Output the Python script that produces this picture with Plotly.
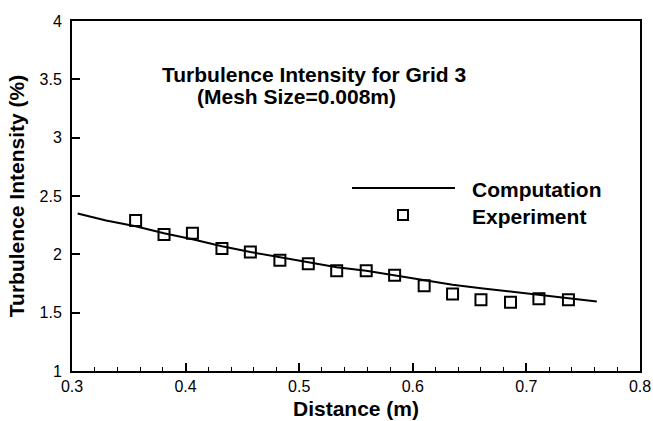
import plotly.graph_objects as go

# Experiment data (distance in m, turbulence intensity in %)
exp_x = [0.356, 0.381, 0.406, 0.432, 0.457, 0.483, 0.508, 0.533, 0.559, 0.584,
         0.610, 0.635, 0.660, 0.686, 0.711, 0.737]
exp_y = [2.29, 2.17, 2.18, 2.05, 2.02, 1.95, 1.92, 1.86, 1.86, 1.82,
         1.73, 1.66, 1.61, 1.59, 1.62, 1.61]

# Computation curve
comp_x = [0.305, 0.33, 0.356, 0.381, 0.406, 0.432, 0.457, 0.483, 0.508, 0.533,
          0.559, 0.584, 0.610, 0.635, 0.660, 0.686, 0.711, 0.737, 0.762]
comp_y = [2.35, 2.29, 2.24, 2.18, 2.13, 2.07, 2.02, 1.975, 1.93, 1.89,
          1.86, 1.82, 1.78, 1.74, 1.71, 1.68, 1.65, 1.62, 1.595]

x_ticks = [0.3, 0.4, 0.5, 0.6, 0.7, 0.8]
x_tick_labels = ["0.3", "0.4", "0.5", "0.6", "0.7", "0.8"]
y_ticks = [1, 1.5, 2, 2.5, 3, 3.5, 4]
y_tick_labels = ["1", "1.5", "2", "2.5", "3", "3.5", "4"]

FONT = "Liberation Sans, Arial, Helvetica, sans-serif"

fig = go.Figure()
fig.add_trace(go.Scatter(x=comp_x, y=comp_y, mode="lines", name="Computation",
                         line=dict(color="black", width=2), showlegend=False))
fig.add_trace(go.Scatter(x=exp_x, y=exp_y, mode="markers", name="Experiment",
                         marker=dict(symbol="square-open", size=11, color="black",
                                     line=dict(width=2, color="black")),
                         showlegend=False))

W, H = 653, 421
PL, PR, PT, PB = 72, 640, 21, 371  # plot area in window pixels


def px(xp):
    return (xp - PL) / (PR - PL)


def py(yp):
    return (PB - yp) / (PB - PT)


# Legend drawn manually
fig.add_shape(type="line", xref="paper", yref="paper",
              x0=px(352), x1=px(455), y0=py(188), y1=py(188),
              line=dict(color="black", width=2))
fig.add_shape(type="rect", xref="paper", yref="paper",
              x0=px(398), x1=px(408), y0=py(210), y1=py(220),
              line=dict(color="black", width=2), fillcolor="white")
fig.add_annotation(text="Computation", xref="paper", yref="paper",
                   x=px(470), y=py(189), xanchor="left", yanchor="middle",
                   showarrow=False, font=dict(family=FONT, size=21, color="black", weight="bold"))
fig.add_annotation(text="Experiment", xref="paper", yref="paper",
                   x=px(470), y=py(216), xanchor="left", yanchor="middle",
                   showarrow=False, font=dict(family=FONT, size=21, color="black", weight="bold"))

# Title text inside plot
fig.add_annotation(text="Turbulence Intensity for Grid 3", xref="paper", yref="paper",
                   x=px(160), y=py(74), xanchor="left", yanchor="middle",
                   showarrow=False, font=dict(family=FONT, size=21, color="black", weight="bold"))
fig.add_annotation(text="(Mesh Size=0.008m)", xref="paper", yref="paper",
                   x=px(195), y=py(96), xanchor="left", yanchor="middle",
                   showarrow=False, font=dict(family=FONT, size=21, color="black", weight="bold"))

fig.update_layout(
    template="none",
    width=W, height=H,
    margin=dict(l=PL, r=W - PR, t=PT, b=H - PB),
    paper_bgcolor="white", plot_bgcolor="white",
    font=dict(family=FONT, color="black"),
    xaxis=dict(
        automargin=False,
        range=[0.3, 0.8], tickvals=x_ticks, ticktext=x_tick_labels,
        showgrid=False, zeroline=False,
        showline=True, linecolor="black", linewidth=2, mirror=True,
        ticks="inside", ticklen=8, tickwidth=2, tickcolor="black",
        ticklabeloverflow="allow",
        tickfont=dict(family=FONT, size=16, color="black"),
        minor=dict(dtick=0.02, tick0=0.3, ticks="inside", ticklen=4, tickwidth=1,
                   tickcolor="black", showgrid=False),
        title=dict(text="Distance (m)", standoff=7,
                   font=dict(family=FONT, size=21, color="black", weight="bold")),
    ),
    yaxis=dict(
        automargin=False,
        range=[1, 4], tickvals=y_ticks, ticktext=y_tick_labels,
        showgrid=False, zeroline=False,
        showline=True, linecolor="black", linewidth=2, mirror=True,
        ticks="inside", ticklen=8, tickwidth=2, tickcolor="black",
        ticklabeloverflow="allow", ticklabelstandoff=5,
        tickfont=dict(family=FONT, size=16, color="black"),
        title=dict(text="Turbulence Intensity (%)", standoff=9,
                   font=dict(family=FONT, size=21, color="black", weight="bold")),
    ),
)

fig.write_html(
    "out.html",
    config={"displayModeBar": False},
    post_script="document.body.style.margin='0';document.body.style.overflow='hidden';",
)
